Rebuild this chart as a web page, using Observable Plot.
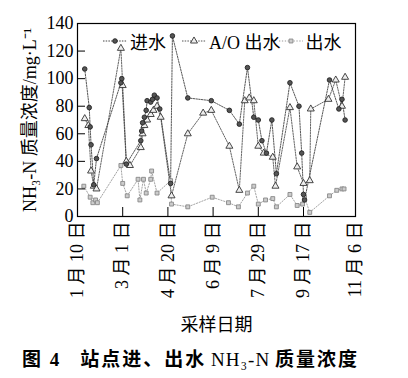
<!DOCTYPE html>
<html><head><meta charset="utf-8">
<script src="https://cdn.jsdelivr.net/npm/d3@7"></script>
<script src="https://cdn.jsdelivr.net/npm/@observablehq/plot@0.6"></script>
<style>
html,body{margin:0;padding:0;background:#fff;}
body{width:408px;height:378px;overflow:hidden;position:relative;font-family:'Liberation Serif','Noto Sans CJK SC',serif;}
#chart{position:absolute;left:0;top:0;}
#legend{position:absolute;left:103px;top:28px;font-size:18px;display:flex;align-items:center;white-space:nowrap;}
#legend .item{display:flex;align-items:center;}
#legend .i0{margin-right:16px;}
#legend .i1{margin-right:-2px;}
#legend svg{margin-right:3px;}
#caption{position:absolute;left:22px;top:344px;font-size:19px;font-weight:bold;white-space:nowrap;font-family:'Liberation Serif','Noto Sans CJK SC',serif;}
#caption .c{letter-spacing:2px;}
#caption .n{font-weight:normal;letter-spacing:1px;}
</style></head><body>
<div id="chart"></div>
<div id="legend"></div>
<div id="caption"><span class="c">图 4</span>&nbsp;&nbsp;&nbsp;&nbsp;<span class="c">站点进、出水</span> <span class="n">NH₃-N</span> <span class="c">质量浓度</span></div>
<script>
// x = days since 1月10日
const tickDays = [0, 50, 100, 150, 200, 250, 300];
const tickLabels = ["1 月 10 日", "3 月 1 日", "4 月 20 日", "6 月 9 日", "7 月 29 日", "9 月 17 日", "11 月 6 日"];
const yTicks = [0, 20, 40, 60, 80, 100, 120, 140];
const seriesNames = ["进水", "A/O 出水", "出水"];

const inDays = [8,13,14,15,18,21,48,49,54,70,71,72,74,76,77,81,83,85,88,91,103,105,122,148,168,179,188,195,200,204,209,215,220,235,245,248,250,251,275,284,287,290];
const inVals = [107,79,65,52,23,42,97,100,38,55,62,68,72,77,84,83,85,88,86,78,24,131,86,84,77,67,108,72,70,55,46,70,31,97,80,46,16,12,99,78,85,70];

const aoDays = [8,12,15,18,21,48,50,54,58,70,72,74,77,81,84,88,92,104,122,139,148,168,179,185,190,195,200,206,216,219,235,243,250,256,257,274,281,287,290];
const aoVals = [71,66,33,22,20,122,95,40,37,50,60,66,70,74,77,80,72,15,60,75,77,51,19,84,86,84,51,46,43,22,79,36,24,26,78,85,99,80,101];

const outDays = [7,14,17,20,22,48,50,55,67,69,73,76,81,82,88,103,104,122,149,167,178,188,195,200,208,216,220,235,243,249,251,256,275,282,287,289];
const outVals = [22,14,10,12,10,37,24,15,27,12,27,17,27,33,17,26,9,7,14,10,7,17,22,9,12,13,7,16,8,9,14,3,15,19,20,20];

const styles = [
  {symbol: "circle", r: 2.3, fill: "#555", stroke: "#222", line: "#444", dash: "1.5,1.2"},
  {symbol: "triangle", r: 2.6, fill: "#eee", stroke: "#333", line: "#555", dash: "1.5,1.2"},
  {symbol: "square", r: 2.2, fill: "#ccc", stroke: "#888", line: "#999", dash: "1.3,1.6"}
];

const toRows = (days, vals, s) => days.map((d, i) => ({day: d, value: vals[i], series: s}));
const rows = [
  toRows(inDays, inVals, seriesNames[0]),
  toRows(aoDays, aoVals, seriesNames[1]),
  toRows(outDays, outVals, seriesNames[2])
];

const marks = [];
[2, 1, 0].forEach(k => {
  const st = styles[k];
  marks.push(Plot.line(rows[k], {x: "day", y: "value", stroke: st.line, strokeWidth: 0.9, strokeDasharray: st.dash}));
});
[2, 1, 0].forEach(k => {
  const st = styles[k];
  marks.push(Plot.dot(rows[k], {x: "day", y: "value", symbol: st.symbol, r: st.r, fill: st.fill, stroke: st.stroke, strokeWidth: 0.9}));
});

const chart = Plot.plot({
  width: 408,
  height: 338,
  marginLeft: 77,
  marginRight: 53,
  marginTop: 23,
  marginBottom: 122,
  style: {fontFamily: "'Liberation Serif','Noto Sans CJK SC',serif", fontSize: "18px", color: "#000", background: "#fff"},
  x: {type: "linear", domain: [0, 250, 300], range: [77, 303, 355]},
  y: {domain: [0, 140], range: [216, 23]},
  marks: [
    ...marks,
    Plot.frame({stroke: "#000", strokeWidth: 1.2}),
    Plot.axisY({ticks: yTicks, tickSize: -8, tickPadding: 12, tickFormat: d => String(d), label: "NH₃-N 质量浓度/mg·L⁻¹", labelAnchor: "center", labelOffset: 54, labelArrow: "none", fill: "#000", stroke: "#000", strokeWidth: 1}),
    Plot.axisX({ticks: tickDays, tickSize: -9, tickPadding: 14, tickRotate: -90, tickFormat: d => tickLabels[tickDays.indexOf(d)], label: "采样日期", labelAnchor: "center", labelOffset: 114, labelArrow: "none", fill: "#000", stroke: "#000", strokeWidth: 1})
  ]
});
document.getElementById("chart").appendChild(chart);

// legend
const legend = document.getElementById("legend");
seriesNames.forEach((name, k) => {
  const st = styles[k];
  const item = document.createElement("div");
  item.className = "item i" + k;
  const svg = d3.create("svg").attr("width", 24).attr("height", 12);
  svg.append("line").attr("x1", 0).attr("x2", 24).attr("y1", 6).attr("y2", 6)
    .attr("stroke", st.line).attr("stroke-dasharray", st.dash);
  svg.append("path").attr("transform", "translate(12,6)")
    .attr("d", d3.symbol(st.symbol === "circle" ? d3.symbolCircle : st.symbol === "triangle" ? d3.symbolTriangle : d3.symbolSquare, Math.PI * st.r * st.r)())
    .attr("fill", st.fill).attr("stroke", st.stroke).attr("stroke-width", 0.9);
  item.appendChild(svg.node());
  const t = document.createElement("span");
  t.textContent = name;
  item.appendChild(t);
  legend.appendChild(item);
});
</script>
</body></html>
